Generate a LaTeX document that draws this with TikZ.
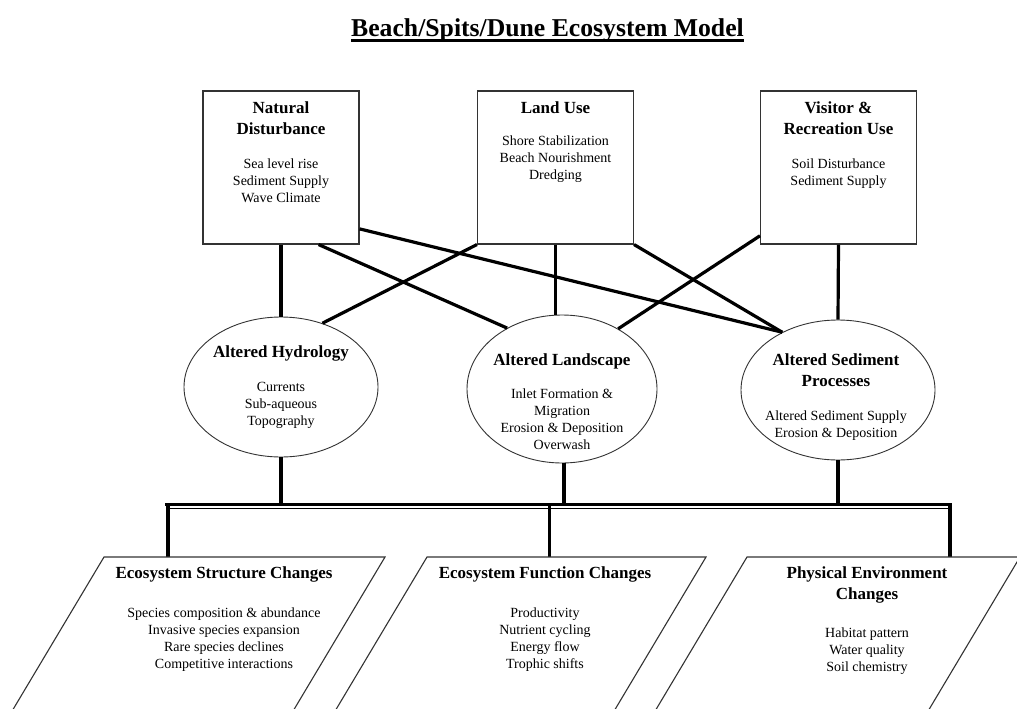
\documentclass[tikz,border=0pt]{standalone}
\usepackage{fontspec}
\setmainfont{Liberation Serif}
\usetikzlibrary{shapes.geometric,calc}
\begin{document}
\begin{tikzpicture}[x=1pt,y=-1pt,
  box/.style={draw=black!80, line width=1.1pt, minimum width=156pt, minimum height=153pt, inner sep=0pt},
  oval/.style={ellipse, draw=black!80, line width=0.9pt, inner sep=0pt},
  hd/.style={font=\fontsize{17}{21}\selectfont\bfseries, align=center, anchor=north, inner sep=0pt},
  bd/.style={font=\fontsize{14}{17}\selectfont, align=center, anchor=north, inner sep=0pt},
  link/.style={line width=3.2pt},
  busline/.style={line width=3.5pt},
  frame/.style={draw=black!80, line width=1.1pt, line join=miter}]
\useasboundingbox (0,0) rectangle (1017,709);
\fill[white] (0,0) rectangle (1017,709);

% title
\node[font=\fontsize{25.7}{30}\selectfont\bfseries, anchor=base, inner sep=0pt] (title) at (547.5,37) {Beach/Spits/Dune Ecosystem Model};
\draw[line width=2.4pt] ($(title.base west)+(0,3.5)$) -- ($(title.base east)+(0,3.5)$);

% top boxes
\node[box] (b1) at (281,167.5) {};
\node[box] (b2) at (555.5,167.5) {};
\node[box] (b3) at (838.5,167.5) {};
\node[hd] (b1h) at (281,98.3) {\strut Natural\\Disturbance};
\node[bd] (b1t) at (281,156.1) {\strut Sea level rise\\Sediment Supply\\Wave Climate};
\node[hd] (b2h) at (555.5,98.3) {\strut Land Use};
\node[bd] (b2t) at (555.5,133.1) {\strut Shore Stabilization\\Beach Nourishment\\Dredging};
\node[hd] (b3h) at (838.5,98.3) {\strut Visitor \&\\Recreation Use};
\node[bd] (b3t) at (838.5,156.1) {\strut Soil Disturbance\\Sediment Supply};

% ellipses
\node[oval, minimum width=194pt, minimum height=140pt] (e1) at (281,387) {};
\node[oval, minimum width=190pt, minimum height=148pt] (e2) at (562,389) {};
\node[oval, minimum width=194pt, minimum height=140pt] (e3) at (838,390) {};
\node[hd] (e1h) at (281,342.3) {\strut Altered Hydrology};
\node[bd] (e1t) at (281,379.1) {\strut Currents\\Sub-aqueous\\Topography};
\node[hd] (e2h) at (562,350.3) {\strut Altered Landscape};
\node[bd] (e2t) at (562,386.1) {\strut Inlet Formation \&\\Migration\\Erosion \& Deposition\\Overwash};
\node[hd] (e3h) at (836,350.3) {\strut Altered Sediment\\Processes};
\node[bd] (e3t) at (836,408.1) {\strut Altered Sediment Supply\\Erosion \& Deposition};

% links boxes -> ellipses
\draw[link] (b1.south) -- (e1.north);
\draw[link] (b1.-64.8) -- (e2.132);
\draw[link] (b1.-38.7) -- (e3.134);
\draw[link] (b2.south west) -- (e1.57);
\draw[link] (b2.south) -- (b2.south |- e2.north);
\draw[link] (b2.south east) -- (e3.134);
\draw[link] (b3.221) -- (e2.47.4);
\draw[link] (b3.south) -- (e3.north);

% bus
\coordinate (busL) at (165,504.5);
\coordinate (busR) at (952,504.5);
\coordinate (busL2) at (167,508.7);
\coordinate (busR2) at (951,508.7);
\draw[link] (e1.south) -- (e1.south |- busL);
\draw[link] ($(e2.south)+(2,0)$) -- ($(e2.south |- busL)+(2,0)$);
\draw[link] (e3.south) -- (e3.south |- busL);
\draw[busline] (busL) -- (busR);
\draw[line width=1.3pt] (busL2) -- (busR2);

% parallelograms
\coordinate (p1t) at (167.5,557);
\coordinate (p2t) at (549,557);
\coordinate (p3t) at (950,557);
\draw[line width=4pt] (p1t |- busL) -- (p1t);
\draw[line width=3pt] (p2t |- busL) -- (p2t);
\draw[line width=4pt] (p3t |- busL) -- (p3t);

\begin{scope}
\clip (0,0) rectangle (1017,709);
\draw[frame] (13,709.5) -- (104,557) -- (385,557) -- (294,709.5);
\draw[frame] (336,709.5) -- (427,557) -- (706,557) -- (615,709.5);
\draw[frame] (656,709.5) -- (747,557) -- (1020,557) -- (929,709.5);
\end{scope}

\node[hd] (p1h) at (224,563.3) {\strut Ecosystem Structure Changes};
\node[bd] (p1b) at (224,605.1) {\strut Species composition \& abundance\\Invasive species expansion\\Rare species declines\\Competitive interactions};
\node[hd] (p2h) at (545,563.3) {\strut Ecosystem Function Changes};
\node[bd] (p2b) at (545,605.1) {\strut Productivity\\Nutrient cycling\\Energy flow\\Trophic shifts};
\node[hd] (p3h) at (867,563.3) {\strut Physical Environment\\Changes};
\node[bd] (p3b) at (867,625.1) {\strut Habitat pattern\\Water quality\\Soil chemistry};
\end{tikzpicture}
\end{document}
